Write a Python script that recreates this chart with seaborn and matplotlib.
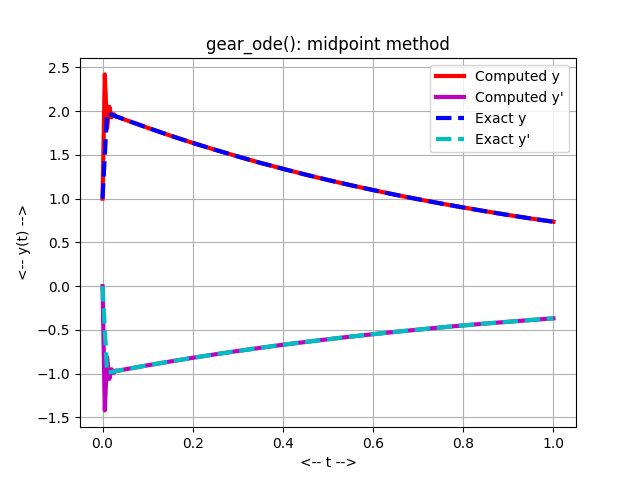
import matplotlib
matplotlib.use("Agg")
import matplotlib.pyplot as plt
import seaborn as sns

# computed solution (midpoint method)
t_comp = [0.0, 0.005, 0.01, 0.015, 0.02, 0.025, 0.03, 0.035, 0.04, 0.05,
          0.10, 0.15, 0.20, 0.25, 0.30, 0.35, 0.40, 0.45, 0.50, 0.55,
          0.60, 0.65, 0.70, 0.75, 0.80, 0.85, 0.90, 0.95, 1.00]
y_comp = [1.0, 2.42, 1.80, 2.05, 1.93, 1.965, 1.935, 1.931, 1.922, 1.902,
          1.810, 1.721, 1.637, 1.558, 1.482, 1.409, 1.341, 1.275, 1.213, 1.154,
          1.098, 1.044, 0.993, 0.945, 0.899, 0.855, 0.813, 0.773, 0.736]
yp_comp = [0.0, -1.42, -0.81, -1.06, -0.95, -0.99, -0.964, -0.966, -0.961, -0.951,
           -0.905, -0.861, -0.819, -0.779, -0.741, -0.705, -0.670, -0.638, -0.607, -0.577,
           -0.549, -0.522, -0.497, -0.472, -0.449, -0.427, -0.407, -0.387, -0.368]

# exact solution
t_exact = [0.0, 0.01, 0.05, 0.10, 0.15, 0.20, 0.25, 0.30, 0.35, 0.40, 0.45,
           0.50, 0.55, 0.60, 0.65, 0.70, 0.75, 0.80, 0.85, 0.90, 0.95, 1.00]
y_exact = [1.0, 1.980, 1.902, 1.810, 1.721, 1.637, 1.558, 1.482, 1.409, 1.341, 1.275,
           1.213, 1.154, 1.098, 1.044, 0.993, 0.945, 0.899, 0.855, 0.813, 0.773, 0.736]
yp_exact = [0.0, -0.990, -0.951, -0.905, -0.861, -0.819, -0.779, -0.741, -0.705, -0.670, -0.638,
            -0.607, -0.577, -0.549, -0.522, -0.497, -0.472, -0.449, -0.427, -0.407, -0.387, -0.368]

fig, ax = plt.subplots(figsize=(6.4, 4.8), dpi=100)

sns.lineplot(x=t_comp, y=y_comp, color="r", linewidth=3, sort=False,
             label="Computed y", ax=ax)
sns.lineplot(x=t_comp, y=yp_comp, color="m", linewidth=3, sort=False,
             label="Computed y'", ax=ax)
sns.lineplot(x=t_exact, y=y_exact, color="b", linewidth=3, linestyle="--",
             sort=False, label="Exact y", ax=ax)
sns.lineplot(x=t_exact, y=yp_exact, color="c", linewidth=3, linestyle="--",
             sort=False, label="Exact y'", ax=ax)

ax.grid(True)
ax.set_xlabel("<-- t -->")
ax.set_ylabel("<-- y(t) -->")
ax.set_title("gear_ode(): midpoint method")
ax.legend(loc="upper right")

plt.savefig("out.png")
